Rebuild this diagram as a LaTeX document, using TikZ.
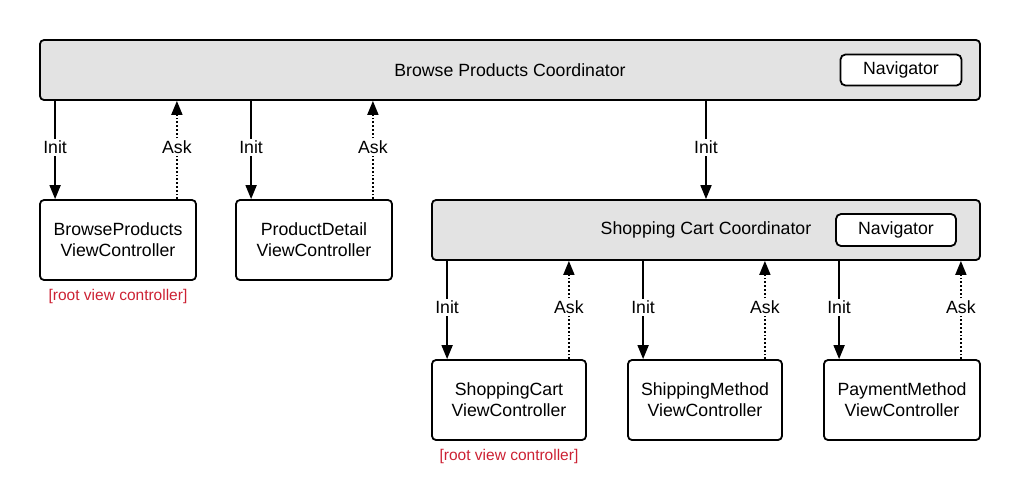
\documentclass[tikz,border=0pt]{standalone}
\usepackage{fontspec}
\setmainfont{Liberation Sans}
\usetikzlibrary{positioning,arrows.meta}
\definecolor{coordgray}{rgb}{0.89,0.89,0.89}
\definecolor{rootred}{rgb}{0.8,0.13,0.2}

\begin{document}
\begin{tikzpicture}[
  x = 1pt,
  y = -1pt,
  coord/.style = {
    draw,
    rectangle,
    rounded corners = 4pt,
    fill = coordgray,
    line width = 1.8pt,
    minimum height = 60pt,
    inner sep = 0pt,
  },
  nav/.style = {
    draw,
    rectangle,
    rounded corners = 5pt,
    fill = white,
    line width = 1.8pt,
    minimum width = 121pt,
    minimum height = 31pt,
    inner sep = 0pt,
  },
  vc/.style = {
    draw,
    rectangle,
    rounded corners = 4pt,
    fill = white,
    line width = 1.8pt,
    minimum width = 156pt,
    minimum height = 80pt,
    align = center,
    inner sep = 0pt,
  },
  lbl/.style = {
    fill = white,
    inner sep = 2pt,
  },
  root/.style = {
    text = rootred,
    font = \fontsize{15.5}{18}\selectfont,
  },
  init/.style = {
    draw,
    line width = 1.8pt,
    -{Triangle[length=14pt,width=11pt]},
  },
  ask/.style = {
    draw,
    line width = 1.8pt,
    dash pattern = on 1.8pt off 2pt,
    -{Triangle[length=14pt,width=11pt]},
  },
  font = \fontsize{17.7}{21}\selectfont,
]

  \useasboundingbox (0,0) rectangle (1020,501);

  % browse products
  \node[coord,minimum width=940pt] (bpc) at (510,70) {Browse Products Coordinator};
  \node[nav] (bpnav) at (901,70) {Navigator};

  \node[vc] (bpvc) at (118,240) {BrowseProducts\\ViewController};
  \node[vc] (pdvc) [right=38.2pt of bpvc] {ProductDetail\\ViewController};
  \node[root] (bproot) [below=5pt of bpvc] {[root view controller]};

  \coordinate (i1) at ([xshift=16pt]bpvc.north west);
  \coordinate (a1) at ([xshift=-20pt]bpvc.north east);
  \coordinate (i2) at ([xshift=16pt]pdvc.north west);
  \coordinate (a2) at ([xshift=-20pt]pdvc.north east);

  \draw[init] (i1 |- bpc.south) -- node[lbl,pos=0.47] {Init} (i1);
  \draw[ask] (a1) -- node[lbl,pos=0.53] {Ask} (a1 |- bpc.south);
  \draw[init] (i2 |- bpc.south) -- node[lbl,pos=0.47] {Init} (i2);
  \draw[ask] (a2) -- node[lbl,pos=0.53] {Ask} (a2 |- bpc.south);

  % shopping cart
  \node[coord,minimum width=548pt] (scc) at (706,230) {Shopping Cart Coordinator};
  \node[nav,minimum width=120pt,minimum height=32pt] (scnav) at (896,230) {Navigator};

  \draw[init] (scc.north |- bpc.south) -- node[lbl,pos=0.47] {Init} (scc.north);

  \node[vc,minimum width=154pt] (scvc) at (509,400) {ShoppingCart\\ViewController};
  \node[vc,minimum width=154pt] (smvc) [right=40.2pt of scvc] {ShippingMethod\\ViewController};
  \node[vc] (pmvc) [right=40.2pt of smvc] {PaymentMethod\\ViewController};
  \node[root] (scroot) [below=5pt of scvc] {[root view controller]};

  \coordinate (i3) at ([xshift=16pt]scvc.north west);
  \coordinate (a3) at ([xshift=-18pt]scvc.north east);
  \coordinate (i4) at ([xshift=16pt]smvc.north west);
  \coordinate (a4) at ([xshift=-18pt]smvc.north east);
  \coordinate (i5) at ([xshift=16pt]pmvc.north west);
  \coordinate (a5) at ([xshift=-20pt]pmvc.north east);

  \draw[init] (i3 |- scc.south) -- node[lbl,pos=0.47] {Init} (i3);
  \draw[ask] (a3) -- node[lbl,pos=0.53] {Ask} (a3 |- scc.south);
  \draw[init] (i4 |- scc.south) -- node[lbl,pos=0.47] {Init} (i4);
  \draw[ask] (a4) -- node[lbl,pos=0.53] {Ask} (a4 |- scc.south);
  \draw[init] (i5 |- scc.south) -- node[lbl,pos=0.47] {Init} (i5);
  \draw[ask] (a5) -- node[lbl,pos=0.53] {Ask} (a5 |- scc.south);

\end{tikzpicture}
\end{document}
